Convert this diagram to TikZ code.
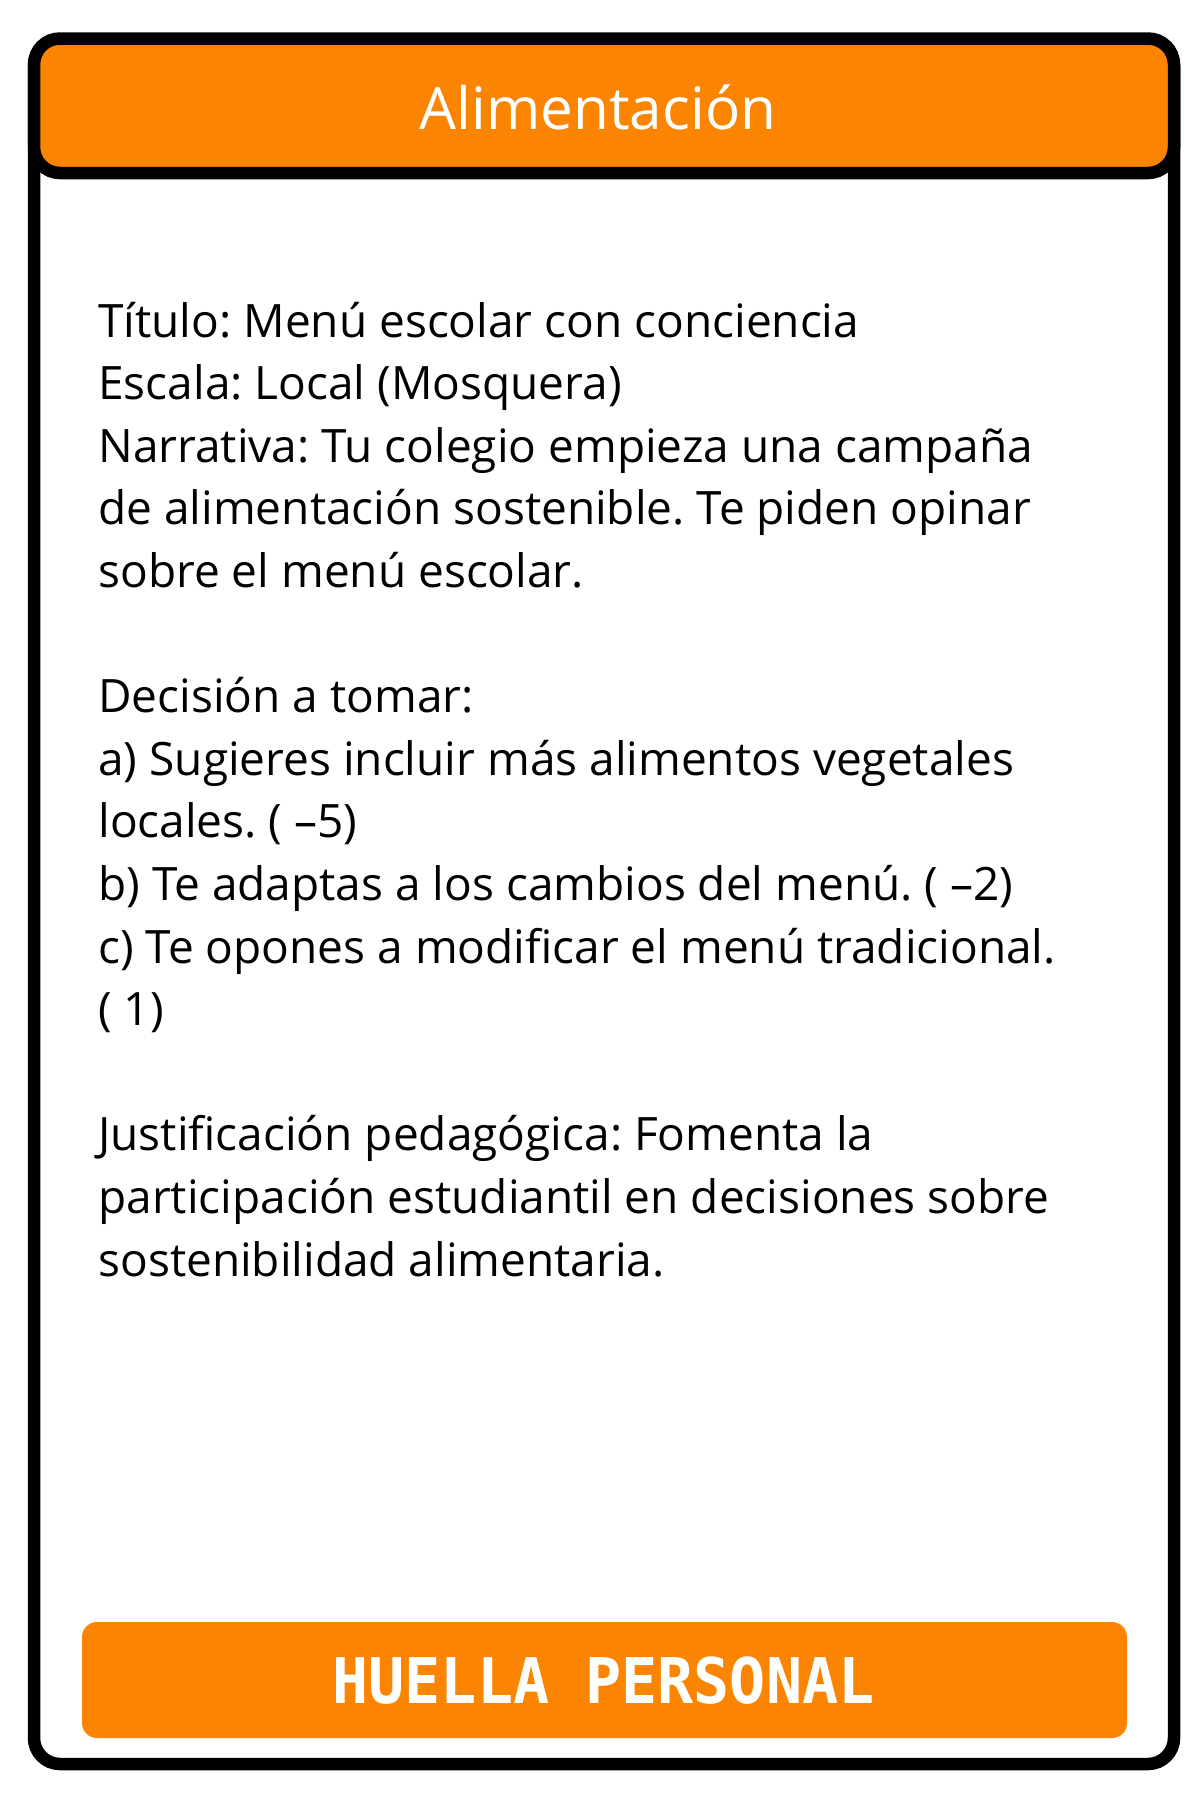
\documentclass[tikz,border=0pt]{standalone}
\usepackage{fontspec}
\setmainfont{Open Sans}
\newfontfamily\monofont{DejaVu Sans Mono}
\definecolor{cardorange}{HTML}{FB8500}
\frenchspacing
\begin{document}
\begin{tikzpicture}[x=0.5pt,y=-0.5pt,
  cardframe/.style={draw=black,line width=6.25pt,fill=white,rounded corners=13pt},
  headbar/.style={draw=black,line width=6.25pt,fill=cardorange,rounded corners=13pt},
  footbar/.style={fill=cardorange,rounded corners=7.5pt},
  bodytext/.style={anchor=base west,inner sep=0pt,font=\fontsize{23}{31.3}\selectfont\frenchspacing},
  titletext/.style={anchor=base,inner sep=0pt,text=white,font=\fontsize{29.2}{36}\selectfont},
  foottext/.style={anchor=base,inner sep=0pt,text=white,font=\monofont\bfseries\fontsize{30}{36}\selectfont}]
\useasboundingbox (0,0) rectangle (1200,1800);
\fill[white] (0,0) rectangle (1200,1800);
\draw[cardframe] (34,40) rectangle (1174,1764);
\draw[headbar] (34,38.5) rectangle (1174,173);
\node[titletext] (title) at (598,129) {Alimentación};
\node[bodytext] (body) at (98,337) {\begin{tabular}[t]{@{}l@{}}
Título: Menú escolar con conciencia\\
Escala: Local (Mosquera)\\
Narrativa: Tu colegio empieza una campaña\\
de alimentación sostenible. Te piden opinar\\
sobre el menú escolar.\\
\\
Decisión a tomar:\\
a) Sugieres incluir más alimentos vegetales\\
locales. ( –5)\\
b) Te adaptas a los cambios del menú. ( –2)\\
c) Te opones a modificar el menú tradicional.\\
( 1)\\
\\
Justificación pedagógica: Fomenta la\\
participación estudiantil en decisiones sobre\\
sostenibilidad alimentaria.
\end{tabular}};
\fill[footbar] (82,1622) rectangle (1127,1738);
\node[foottext] (foot) at (603.5,1703) {\scalebox{1}[1.05]{HUELLA PERSONAL}};
\end{tikzpicture}
\end{document}
